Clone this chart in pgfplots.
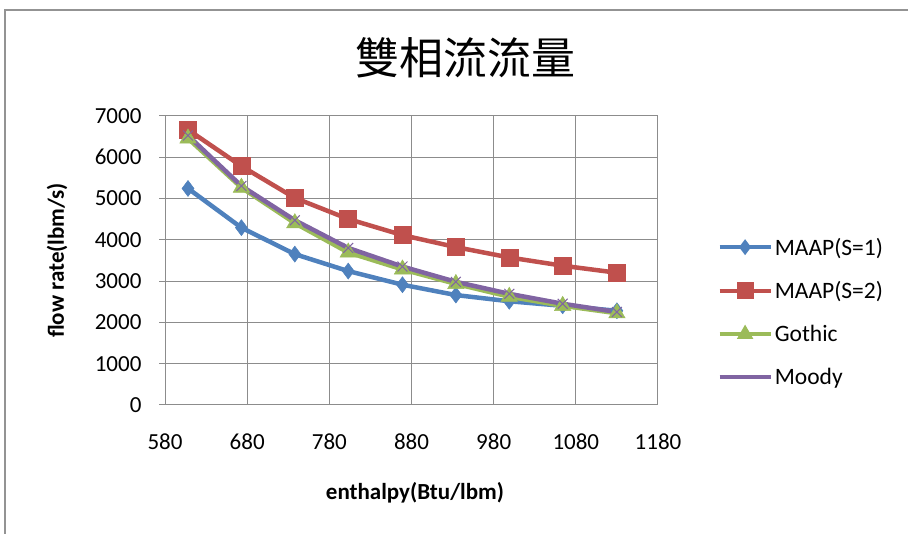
\documentclass[border=0pt]{standalone}
\usepackage{fontspec}
\setmainfont{Carlito}
\newfontfamily\cjk{Noto Sans CJK TC}
\usepackage{pgfplots}
\pgfplotsset{compat=1.18}

\definecolor{sblue}{HTML}{4F81BD}
\definecolor{sred}{HTML}{C0504D}
\definecolor{sgreen}{HTML}{9BBB59}
\definecolor{spurple}{HTML}{8064A2}
\definecolor{gridgray}{HTML}{8C8C8C}

\begin{document}
\begin{tikzpicture}[x=1pt,y=1pt]
\useasboundingbox (0,0) rectangle (908,534);
% chart area frame
\draw[gray!85, line width=1.5pt] (5,0) -- (5,524) -- (908,524);
\node[font=\cjk\fontsize{44}{50}\selectfont] at (465,476) {雙相流流量};
\begin{axis}[
  at={(165pt,129pt)}, anchor=south west,
  scale only axis, width=493pt, height=289.3pt,
  xmin=580, xmax=1180, ymin=0, ymax=7000,
  xtick={580,680,...,1180}, ytick={0,1000,...,7000},
  /pgf/number format/assume math mode=true,
  /pgf/number format/1000 sep={},
  tick label style={font=\fontsize{23}{26}\selectfont},
  grid=major, grid style={gridgray, line width=1pt},
  axis line style={gridgray, line width=1pt},
  xtick style={draw=none},
  ytick style={gridgray, line width=1pt},
  tick align=outside, major tick length=6pt,
  ytick pos=left,
  xticklabel style={yshift=-19pt},
  yticklabel style={xshift=-14pt},
  xlabel={enthalpy(Btu/lbm)},
  ylabel={flow rate(lbm/s)},
  every axis x label/.style={at={(axis description cs:0.507,-0.304)}, anchor=center,
    font=\bfseries\fontsize{23}{26}\selectfont},
  every axis y label/.style={at={(axis description cs:-0.219,0.5)}, rotate=90, anchor=center,
    font=\bfseries\fontsize{23}{26}\selectfont},
  legend style={draw=none, fill=none, font=\fontsize{23.5}{26}\selectfont,
    at={(axis description cs:1.12,0.322)}, anchor=west,
    row sep=21pt, inner sep=0pt, cells={anchor=west}},
  legend image code/.code={
    \draw[#1, mark=none] (0pt,0pt) -- (51pt,0pt);
    \draw[#1, mark repeat=2, mark phase=2, line width=0pt, draw opacity=0]
      plot coordinates {(0pt,0pt) (25.5pt,0pt) (51pt,0pt)};
  },
  every axis plot/.append style={line width=4.5pt},
]
\addplot[sblue, mark=diamond*, mark size=8pt, mark options={line width=0.5pt}]
  coordinates {(608,5240) (673,4290) (738,3650) (803,3240) (869,2910)
               (934,2660) (999,2510) (1064,2400) (1130,2280)};
\addlegendentry{MAAP(S=1)}
\addplot[sred, mark=square*, mark size=8.5pt, mark options={line width=0.5pt}]
  coordinates {(608,6660) (673,5780) (738,5010) (803,4500) (869,4110)
               (934,3820) (999,3570) (1064,3370) (1130,3200)};
\addlegendentry{MAAP(S=2)}
\addplot[sgreen, mark=triangle*, mark size=9.5pt, mark options={line width=0.5pt}]
  coordinates {(608,6450) (673,5260) (738,4400) (803,3690) (869,3280)
               (934,2930) (999,2620) (1064,2400) (1130,2220)};
\addlegendentry{Gothic}
\addplot[spurple, mark=x, mark size=7pt, mark options={line width=1pt}]
  coordinates {(608,6520) (673,5300) (738,4470) (803,3800) (869,3350)
               (934,2980) (999,2690) (1064,2450) (1130,2250)};
\addlegendentry{Moody}
\end{axis}
\end{tikzpicture}
\end{document}
